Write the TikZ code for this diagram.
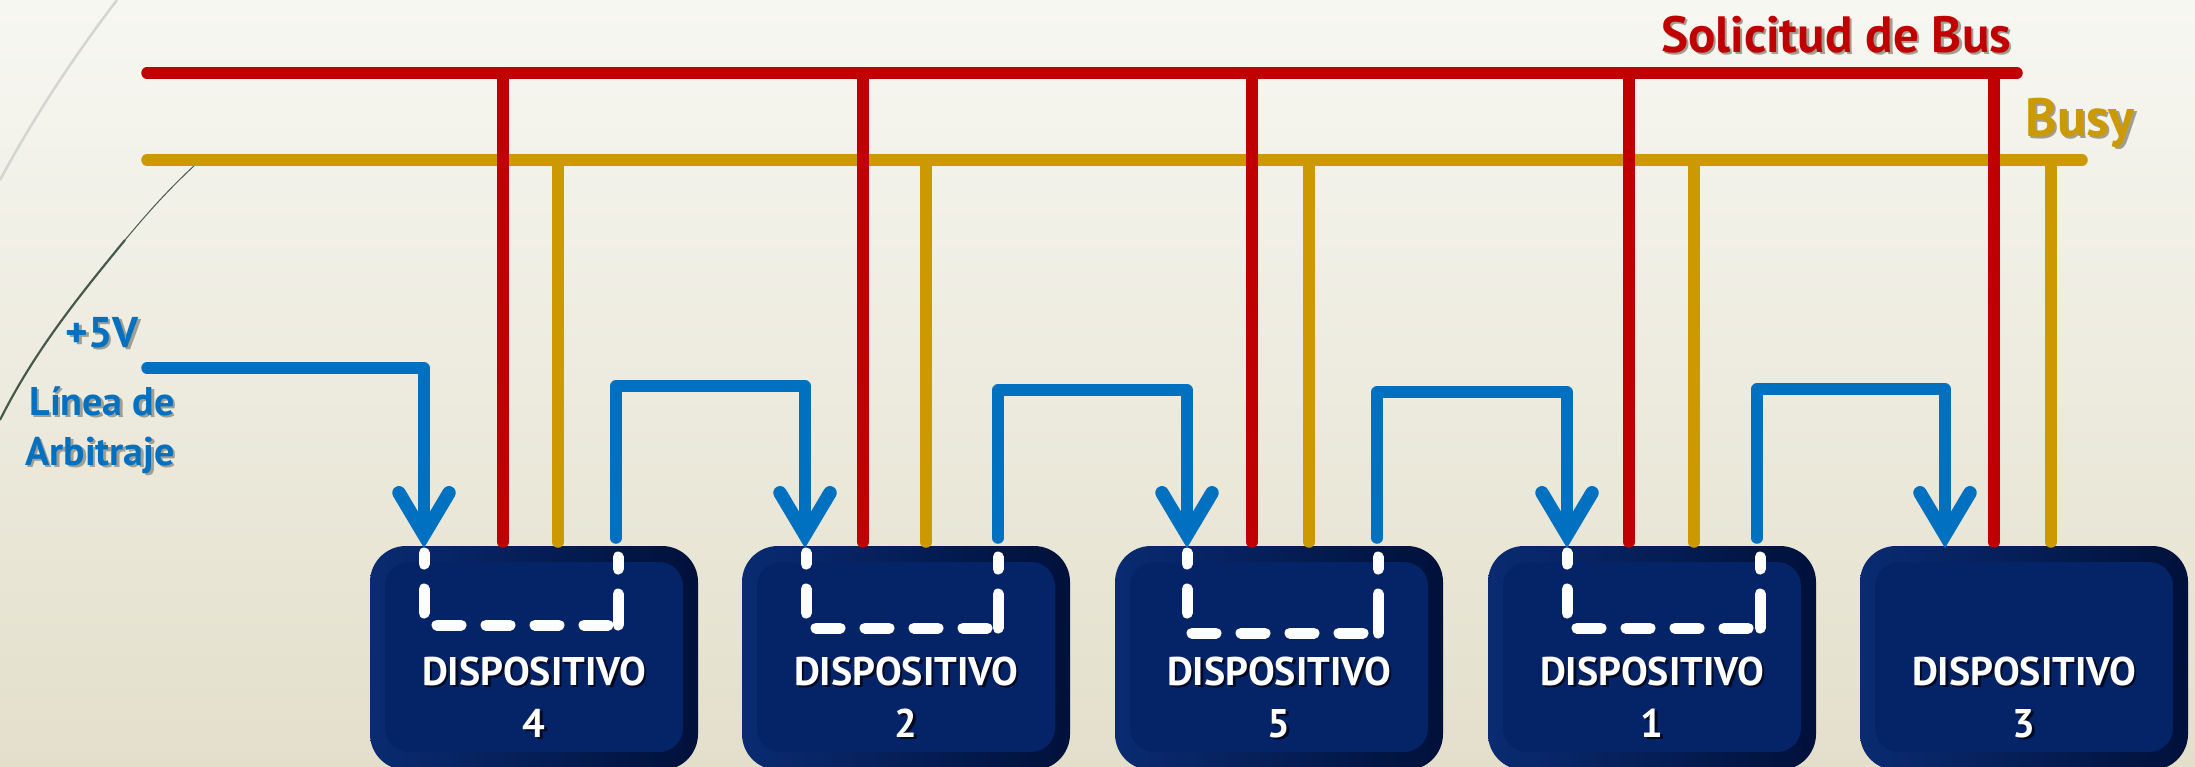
\documentclass[tikz,border=0pt]{standalone}
\usepackage{fontspec}
\setmainfont{PT Sans}
\usetikzlibrary{arrows.meta}

\definecolor{busred}{HTML}{C00000}
\definecolor{busgold}{HTML}{CC9900}
\definecolor{arbblue}{HTML}{0070C0}
\definecolor{devinner}{HTML}{052468}
\definecolor{devedgeL}{HTML}{0A2B72}
\definecolor{devedgeR}{HTML}{00113A}
\definecolor{bgtop}{HTML}{F7F7F2}
\definecolor{bgbot}{HTML}{E3DFCB}
\definecolor{txtshadow}{HTML}{A09E92}
\definecolor{devshadow}{HTML}{000A24}
\definecolor{arcpale}{HTML}{D3D6CE}
\definecolor{arcdark}{HTML}{465A4C}

% text with a small drop shadow: [shadow colour]{text colour}{text}
\newcommand{\shadowed}[3][txtshadow]{%
  \rlap{\hspace{2.5pt}\raisebox{-2.5pt}{\textcolor{#1}{#3}}}\textcolor{#2}{#3}}

\tikzset{
  busline/.style={line width=11.5pt, line cap=round},
  redw/.style={busline, busred},
  goldw/.style={busline, busgold},
  arbline/.style={busline, arbblue, line join=round,
    -{Straight Barb[length=42pt, width=50pt, line width=13.5pt,
      line cap=round, line join=miter]}},
  chainA/.style={line width=11pt, white, line cap=round, line join=round,
    dash pattern=on 24pt off 25pt, dash phase=13pt},
  chainB/.style={line width=11pt, white, line cap=round, line join=round,
    dash pattern=on 12pt off 25pt on 60pt off 10pt},
  devbox/.style={rounded corners=36pt, minimum width=328pt, minimum height=224pt,
    inner sep=0pt, left color=devedgeL, right color=devedgeR,
    path picture={\fill[devinner, rounded corners=24pt]
      ([xshift=15pt,yshift=18pt]path picture bounding box.south west) rectangle
      ([xshift=-15pt,yshift=-16pt]path picture bounding box.north east);}},
  devtext/.style={anchor=base, inner sep=0pt, font=\bfseries\fontsize{40}{50}\selectfont},
  lbl/.style={anchor=base, inner sep=0pt, font=\bfseries},
}

\begin{document}
\begin{tikzpicture}[x=1pt, y=-1pt]
\useasboundingbox (0,0) rectangle (2195,766);
\shade[top color=bgtop, bottom color=bgbot] (0,0) rectangle (2195,766);

% decorative arcs on the left edge
\draw[arcpale, line width=2.5pt] (117,0) .. controls (75,55) and (35,115) .. (0,180);
\draw[arcdark, line width=1pt] (196,164) .. controls (170,188) and (150,210) .. (125,240);
\draw[arcdark, line width=2.2pt] (125,240) .. controls (80,295) and (35,350) .. (0,420);

% devices
\node[devbox] (d4) at (534,658) {};
\node[devbox] (d2) at (906,658) {};
\node[devbox] (d5) at (1279,658) {};
\node[devbox] (d1) at (1652,658) {};
\node[devbox] (d3) at (2024,658) {};

\foreach \n/\x in {4/534, 2/906, 5/1279, 1/1652, 3/2024} {
  \node[devtext] (ta\n) at (\x,685) {\shadowed[devshadow]{white}{DISPOSITIVO}};
  \node[devtext] (tb\n) at (\x,737) {\shadowed[devshadow]{white}{\n}};
}

% bus end points
\coordinate (rbusL) at (147,73);
\coordinate (rbusR) at (2017,73);
\coordinate (gbusL) at (147,160);
\coordinate (gbusR) at (2082,160);

% ports on top of each device: r = request, g = busy, i = grant in, o = grant out
\coordinate (r4) at (503,542);  \coordinate (g4) at (558,542);
\coordinate (r2) at (863,542);  \coordinate (g2) at (926,542);
\coordinate (r5) at (1252,542); \coordinate (g5) at (1309,542);
\coordinate (r1) at (1629,542); \coordinate (g1) at (1694,542);
\coordinate (r3) at (1994,542); \coordinate (g3) at (2051,542);

\coordinate (i4) at (424,548);  \coordinate (o4) at (616,538);
\coordinate (i2) at (805,548);  \coordinate (o2) at (998,538);
\coordinate (i5) at (1187,548); \coordinate (o5) at (1377,538);
\coordinate (i1) at (1567,548); \coordinate (o1) at (1757,538);
\coordinate (i3) at (1945,548);
\coordinate (vcc) at (147,368);

% buses
\draw[redw] (rbusL) -- (rbusR);
\draw[goldw] (gbusL) -- (gbusR);
\foreach \k in {4,2,5,1,3} {
  \draw[redw] (r\k |- rbusL) -- (r\k);
  \draw[goldw] (g\k |- gbusL) -- (g\k);
}

% daisy chain through the devices
\foreach \a/\b/\y in {424/618/625, 806/998/628, 1187/1378/633, 1567/1760/628} {
  \draw[chainA] (\a,553) -- (\a,\y) -- (\b,\y);
  \draw[chainB] (\b,557) -- (\b,\y);
}

% arbitration line
\draw[arbline] (vcc) -| (i4);
\draw[arbline] (o4) -- ++(0,-152) -| (i2);
\draw[arbline] (o2) -- ++(0,-148) -| (i5);
\draw[arbline] (o5) -- ++(0,-146) -| (i1);
\draw[arbline] (o1) -- ++(0,-149) -| (i3);

% labels
\node[lbl, font=\bfseries\fontsize{51}{60}\selectfont] (lreq) at (1836,52)
  {\shadowed{busred}{Solicitud de Bus}};
\node[lbl, font=\bfseries\fontsize{54}{60}\selectfont] (lbusy) at (2080,136)
  {\shadowed{busgold}{Busy}};
\node[lbl, font=\bfseries\fontsize{43}{50}\selectfont] (lvcc) at (102,347)
  {\shadowed{arbblue}{+5V}};
\node[lbl, font=\bfseries\fontsize{40}{50}\selectfont] (larb1) at (102,415)
  {\shadowed{arbblue}{Línea de}};
\node[lbl, font=\bfseries\fontsize{40}{50}\selectfont] (larb2) at (100,465)
  {\shadowed{arbblue}{Arbitraje}};
\end{tikzpicture}
\end{document}
